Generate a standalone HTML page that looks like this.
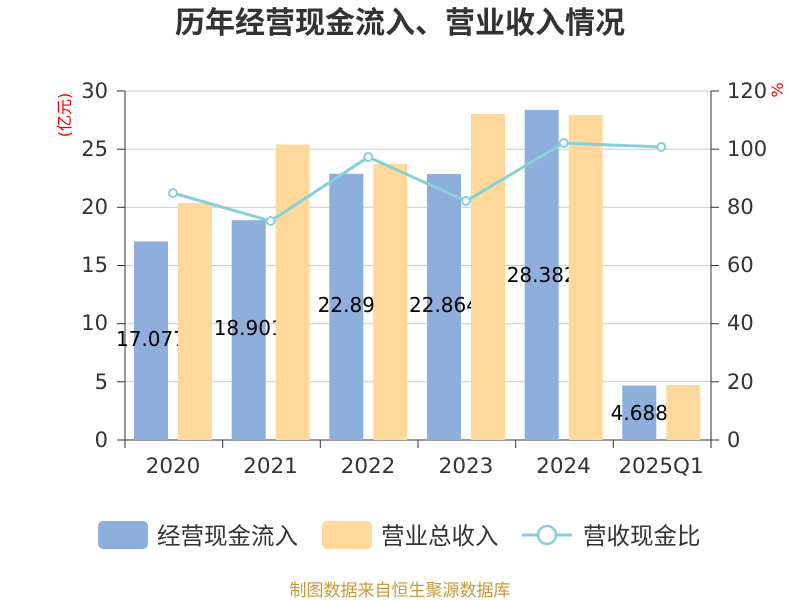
<!DOCTYPE html>
<html><head><meta charset="utf-8"><style>body{margin:0;background:#fff}svg{display:block}text{font-family:"DejaVu Sans","Noto Sans CJK SC",sans-serif}</style></head><body>
<svg width="800" height="600" xmlns="http://www.w3.org/2000/svg">
<text x="400" y="33" text-anchor="middle" font-size="30" font-weight="bold" fill="#333" style="font-family:'Noto Sans CJK SC',sans-serif">历年经营现金流入、营业收入情况</text>
<g stroke="#ccc" stroke-width="1">
<line x1="125" x2="711" y1="91" y2="91"/><line x1="125" x2="711" y1="149.2" y2="149.2"/><line x1="125" x2="711" y1="207.3" y2="207.3"/><line x1="125" x2="711" y1="265.5" y2="265.5"/><line x1="125" x2="711" y1="323.7" y2="323.7"/><line x1="125" x2="711" y1="381.8" y2="381.8"/>
</g>
<g stroke="#333" stroke-width="1">
<line x1="125" x2="125" y1="91" y2="440"/><line x1="711" x2="711" y1="91" y2="440"/>
<line x1="117" x2="125" y1="91" y2="91"/><line x1="117" x2="125" y1="149.2" y2="149.2"/><line x1="117" x2="125" y1="207.3" y2="207.3"/><line x1="117" x2="125" y1="265.5" y2="265.5"/><line x1="117" x2="125" y1="323.7" y2="323.7"/><line x1="117" x2="125" y1="381.8" y2="381.8"/><line x1="117" x2="125" y1="440" y2="440"/>
<line x1="711" x2="719" y1="91" y2="91"/><line x1="711" x2="719" y1="149.2" y2="149.2"/><line x1="711" x2="719" y1="207.3" y2="207.3"/><line x1="711" x2="719" y1="265.5" y2="265.5"/><line x1="711" x2="719" y1="323.7" y2="323.7"/><line x1="711" x2="719" y1="381.8" y2="381.8"/><line x1="711" x2="719" y1="440" y2="440"/>
<line x1="125" x2="711" y1="440" y2="440"/>
<line x1="125" x2="125" y1="440" y2="448"/><line x1="222.7" x2="222.7" y1="440" y2="448"/><line x1="320.3" x2="320.3" y1="440" y2="448"/><line x1="418" x2="418" y1="440" y2="448"/><line x1="515.7" x2="515.7" y1="440" y2="448"/><line x1="613.3" x2="613.3" y1="440" y2="448"/><line x1="711" x2="711" y1="440" y2="448"/>
</g>
<g font-size="21" fill="#333" text-anchor="end">
<text x="108" y="98">30</text><text x="108" y="156">25</text><text x="108" y="214">20</text><text x="108" y="272">15</text><text x="108" y="330">10</text><text x="108" y="389">5</text><text x="108" y="447">0</text>
</g>
<g font-size="21" fill="#333">
<text x="727" y="98">120</text><text x="727" y="156">100</text><text x="727" y="214">80</text><text x="727" y="272">60</text><text x="727" y="330">40</text><text x="727" y="389">20</text><text x="727" y="447">0</text>
</g>
<g font-size="21.5" fill="#333" text-anchor="middle">
<text x="173" y="473">2020</text><text x="270.5" y="473">2021</text><text x="368" y="473">2022</text><text x="466" y="473">2023</text><text x="563.5" y="473">2024</text><text x="661" y="473">2025Q1</text>
</g>
<text transform="translate(70,115) rotate(-90)" font-size="16" fill="#e00" text-anchor="middle">(亿元)</text>
<text transform="translate(783,90) rotate(-90)" font-size="16" fill="#e00" text-anchor="middle">%</text>
<g fill="#8eaedb">
<rect x="134" y="241.4" width="34" height="198.6"/><rect x="231.7" y="220.2" width="34" height="219.8"/><rect x="329.3" y="173.8" width="34" height="266.2"/><rect x="427" y="174.1" width="34" height="265.9"/><rect x="524.7" y="109.9" width="34" height="330.1"/><rect x="622.3" y="385.5" width="34" height="54.5"/>
</g>
<g font-size="20" fill="#000" text-anchor="middle">
<text x="151" y="346">17.077</text><text x="248.7" y="335">18.901</text><text x="346.3" y="312">22.89</text><text x="444" y="312">22.864</text><text x="541.7" y="282">28.382</text><text x="639.3" y="420">4.688</text>
</g>
<g fill="#fed99b">
<rect x="178" y="203" width="34" height="237"/><rect x="275.7" y="144.5" width="34" height="295.5"/><rect x="373.3" y="164" width="34" height="276"/><rect x="471" y="114" width="34" height="326"/><rect x="568.7" y="115" width="34" height="325"/><rect x="666.3" y="385" width="34" height="55"/>
</g>
<polyline fill="none" stroke="#86d1d8" stroke-width="3" points="173,193 270.7,221 368.3,157 466,201 563.7,143 661.3,147"/>
<g fill="#fff" stroke="#86d1d8" stroke-width="2">
<circle cx="173" cy="193" r="4"/><circle cx="270.7" cy="221" r="4"/><circle cx="368.3" cy="157" r="4"/><circle cx="466" cy="201" r="4"/><circle cx="563.7" cy="143" r="4"/><circle cx="661.3" cy="147" r="4"/>
</g>
<rect x="98" y="521" width="50" height="28" rx="5" fill="#8eaedb"/>
<text x="157" y="544" font-size="23.5" fill="#333">经营现金流入</text>
<rect x="322" y="521" width="50" height="28" rx="5" fill="#fed99b"/>
<text x="381" y="544" font-size="23.5" fill="#333">营业总收入</text>
<line x1="522" x2="572" y1="535" y2="535" stroke="#86d1d8" stroke-width="3"/>
<circle cx="547" cy="535" r="9" fill="#fff" stroke="#86d1d8" stroke-width="2.5"/>
<text x="583" y="544" font-size="23.5" fill="#333">营收现金比</text>
<text x="400" y="596" font-size="17" fill="#c89a3a" text-anchor="middle">制图数据来自恒生聚源数据库</text>
</svg>
</body></html>
